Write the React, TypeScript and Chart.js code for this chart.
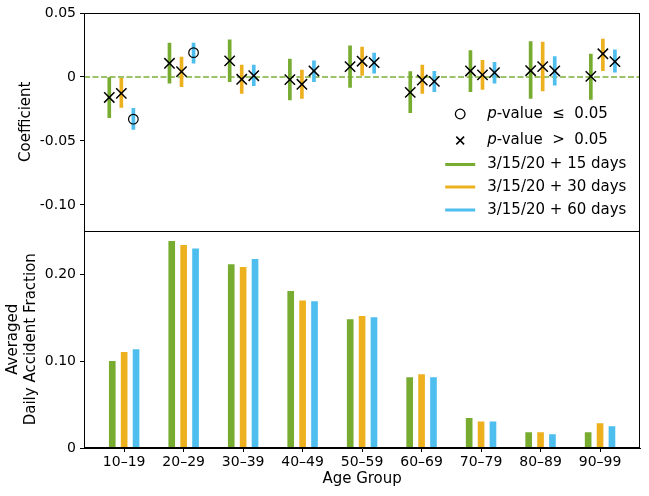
import { Chart, registerables } from "chart.js";
import { useEffect, useRef } from "react";

Chart.register(...registerables);

const ageGroups = ["10–19", "20–29", "30–39", "40–49", "50–59", "60–69", "70–79", "80–89", "90–99"];
const seriesLabels = ["3/15/20 + 15 days", "3/15/20 + 30 days", "3/15/20 + 60 days"];
const seriesColors = ["#77AC30", "#EDB120", "#4DBEEE"];

// regression coefficients and confidence intervals (top panel)
const coef15 = [-0.016, 0.0107, 0.0126, -0.0021, 0.0081, -0.012, 0.0047, 0.0049, 0.0005];
const lo15 = [-0.0318, -0.0049, -0.0037, -0.018, -0.0081, -0.028, -0.0115, -0.0167, -0.0175];
const hi15 = [0.0, 0.0265, 0.029, 0.0139, 0.0243, 0.0042, 0.0206, 0.0277, 0.0178];
const sig15 = [false, false, false, false, false, false, false, false, false];

const coef30 = [-0.0128, 0.0042, -0.0018, -0.0057, 0.0123, -0.0024, 0.0016, 0.0081, 0.0181];
const lo30 = [-0.0238, -0.0076, -0.0128, -0.0167, 0.0013, -0.0128, -0.0097, -0.011, 0.0049];
const hi30 = [-0.001, 0.0155, 0.0092, 0.0053, 0.0233, 0.0092, 0.0131, 0.0272, 0.0296];
const sig30 = [false, false, false, false, false, false, false, false, false];

const coef60 = [-0.033, 0.019, 0.001, 0.0047, 0.0112, -0.0034, 0.0034, 0.0047, 0.012];
const lo60 = [-0.041, 0.0107, -0.0068, -0.0037, 0.0029, -0.0115, -0.0049, -0.0065, 0.0037];
const hi60 = [-0.0246, 0.0265, 0.0092, 0.0126, 0.0186, 0.0045, 0.0115, 0.0159, 0.0212];
const sig60 = [true, true, false, false, false, false, false, false, false];

// averaged daily accident fraction (bottom panel)
const frac15 = [0.0996, 0.2375, 0.2107, 0.18, 0.1475, 0.0808, 0.034, 0.0176, 0.0176];
const frac30 = [0.11, 0.2329, 0.2076, 0.1693, 0.1513, 0.0843, 0.0302, 0.0176, 0.028];
const frac60 = [0.113, 0.229, 0.2168, 0.1682, 0.1498, 0.0808, 0.0302, 0.0153, 0.0245];

const topTicks = [-0.1, -0.05, 0, 0.05];
const bottomTicks = [0, 0.1, 0.2];

const offsets = [-0.2, 0, 0.2];
const coefs = [coef15, coef30, coef60];
const lows = [lo15, lo30, lo60];
const highs = [hi15, hi30, hi60];
const sigs = [sig15, sig30, sig60];
const fracs = [frac15, frac30, frac60];

const tickFont = { family: "DejaVu Sans", size: 14 };
const labelFont = { family: "DejaVu Sans", size: 15 };

const fmt = (v: number) => (v === 0 ? "0" : v.toFixed(2));

// box around each panel
const framePlugin = {
    id: "panelFrames",
    afterDraw(chart: any) {
        const { ctx, chartArea } = chart;
        const yTop = chart.scales.yTop;
        const yBot = chart.scales.yBot;
        const l = Math.round(chartArea.left) + 0.5;
        const r = Math.round(chartArea.right) - 0.5;
        const t = Math.round(yTop.top) + 0.5;
        const m = Math.round(yTop.bottom) + 0.5;
        const b = Math.round(yBot.bottom) - 0.5;
        ctx.save();
        ctx.strokeStyle = "#000";
        ctx.lineWidth = 1;
        ctx.strokeRect(l, t, r - l, b - t);
        ctx.beginPath();
        ctx.moveTo(l, m);
        ctx.lineTo(r, m);
        ctx.stroke();
        ctx.restore();
    },
};

// legend in the lower right of the top panel
const legendPlugin = {
    id: "panelLegend",
    afterDraw(chart: any) {
        const { ctx, chartArea } = chart;
        const yTop = chart.scales.yTop;
        const symX = chartArea.right - 180;
        const textX = chartArea.right - 153;
        const rows = [116.5, 90, 66, 43.5, 20.5].map((d) => yTop.bottom - d);
        ctx.save();
        ctx.textBaseline = "middle";
        ctx.fillStyle = "#000";
        ctx.strokeStyle = "#000";
        ctx.lineWidth = 1.3;
        // circle marker
        ctx.beginPath();
        ctx.arc(symX, rows[0], 4.8, 0, Math.PI * 2);
        ctx.stroke();
        // x marker
        const h = 3.9;
        ctx.lineWidth = 1.5;
        ctx.beginPath();
        ctx.moveTo(symX - h, rows[1] - h);
        ctx.lineTo(symX + h, rows[1] + h);
        ctx.moveTo(symX - h, rows[1] + h);
        ctx.lineTo(symX + h, rows[1] - h);
        ctx.stroke();
        const pText = ["-value  ≤  0.05", "-value  >  0.05"];
        pText.forEach((t, k) => {
            ctx.font = 'italic 15px "DejaVu Sans"';
            ctx.fillText("p", textX, rows[k]);
            const w = ctx.measureText("p").width;
            ctx.font = '15px "DejaVu Sans"';
            ctx.fillText(t, textX + w, rows[k]);
        });
        seriesLabels.forEach((lab, k) => {
            const y = rows[k + 2];
            ctx.strokeStyle = seriesColors[k];
            ctx.lineWidth = 3;
            ctx.beginPath();
            ctx.moveTo(symX - 15, y);
            ctx.lineTo(symX + 15, y);
            ctx.stroke();
            ctx.font = '15px "DejaVu Sans"';
            ctx.fillText(lab, textX, y);
        });
        ctx.restore();
    },
};

export default function App() {
    const chartRef = useRef<HTMLCanvasElement | null>(null);
    useEffect(() => {
        const context = chartRef.current?.getContext("2d");
        if (!context) return;

        const datasets: any[] = [];
        // coefficient markers
        for (let s = 0; s < 3; s++) {
            datasets.push({
                type: "scatter",
                label: seriesLabels[s] + " coef",
                xAxisID: "xTop",
                yAxisID: "yTop",
                data: coefs[s].map((v, i) => ({ x: i + offsets[s], y: v })),
                pointStyle: (c: any) => (sigs[s][c.dataIndex] ? "circle" : "crossRot"),
                pointRadius: (c: any) => (sigs[s][c.dataIndex] ? 4.8 : 7.3),
                pointBorderColor: "#000",
                pointBackgroundColor: "rgba(0,0,0,0)",
                pointBorderWidth: (c: any) => (sigs[s][c.dataIndex] ? 1.2 : 1.5),
                order: 0,
            });
        }
        // confidence intervals
        for (let s = 0; s < 3; s++) {
            datasets.push({
                type: "bar",
                label: seriesLabels[s] + " ci",
                xAxisID: "xTop",
                yAxisID: "yTop",
                data: lows[s].map((v, i) => ({ x: i + offsets[s], y: [v, highs[s][i]] })),
                backgroundColor: seriesColors[s],
                barThickness: 3,
                grouped: false,
                borderWidth: 0,
                order: 1,
            });
        }
        // zero line
        datasets.push({
            type: "line",
            label: "zero",
            xAxisID: "xTop",
            yAxisID: "yTop",
            data: [
                { x: -0.62, y: 0 },
                { x: 8.62, y: 0 },
            ],
            borderColor: "rgba(119,172,48,0.72)",
            borderWidth: 2,
            borderDash: [6, 2.5],
            pointRadius: 0,
            order: 2,
        });
        // accident fraction bars
        for (let s = 0; s < 3; s++) {
            datasets.push({
                type: "bar",
                label: seriesLabels[s],
                xAxisID: "xBot",
                yAxisID: "yBot",
                data: fracs[s].map((v, i) => ({ x: i + offsets[s], y: v })),
                backgroundColor: seriesColors[s],
                barThickness: 6,
                grouped: false,
                borderWidth: 0,
                order: 1,
            });
        }

        const config: any = {
            type: "bar",
            data: { datasets },
            options: {
                animation: false,
                responsive: false,
                events: [],
                layout: { padding: { top: 13, right: 7, left: 0, bottom: 0 } },
                plugins: { legend: { display: false }, tooltip: { enabled: false } },
                scales: {
                    xBot: {
                        type: "linear",
                        position: "bottom",
                        offset: false,
                        min: -0.675,
                        max: 8.675,
                        afterBuildTicks: (sc: any) => {
                            sc.ticks = ageGroups.map((_, i) => ({ value: i }));
                        },
                        afterFit: (sc: any) => {
                            sc.height = 48;
                        },
                        ticks: {
                            callback: (v: number) => ageGroups[v],
                            font: tickFont,
                            color: "#000",
                            padding: 2,
                            maxRotation: 0,
                            autoSkip: false,
                        },
                        grid: { drawOnChartArea: false, offset: false, tickLength: 4, color: "#000" },
                        border: { color: "#000" },
                        title: {
                            display: true,
                            text: "Age Group",
                            font: labelFont,
                            color: "#000",
                            padding: { top: 0, bottom: 8 },
                        },
                    },
                    xTop: {
                        type: "linear",
                        display: false,
                        offset: false,
                        grid: { offset: false },
                        min: -0.62,
                        max: 8.62,
                    },
                    yBot: {
                        type: "linear",
                        position: "left",
                        stack: "panels",
                        stackWeight: 1,
                        min: 0,
                        max: 0.25,
                        afterBuildTicks: (sc: any) => {
                            sc.ticks = bottomTicks.map((v) => ({ value: v }));
                        },
                        afterFit: (sc: any) => {
                            sc.width = 84;
                        },
                        ticks: { callback: (v: number) => fmt(v), font: tickFont, color: "#000", padding: 4 },
                        grid: { drawOnChartArea: false, tickLength: 4, color: "#000" },
                        border: { color: "#000" },
                        title: {
                            display: true,
                            text: ["Averaged", "Daily Accident Fraction"],
                            font: labelFont,
                            color: "#000",
                            padding: { top: 3.7, bottom: 0 },
                        },
                    },
                    yTop: {
                        type: "linear",
                        position: "left",
                        stack: "panels",
                        stackWeight: 1,
                        min: -0.12,
                        max: 0.05,
                        afterBuildTicks: (sc: any) => {
                            sc.ticks = topTicks.map((v) => ({ value: v }));
                        },
                        afterFit: (sc: any) => {
                            sc.width = 84;
                        },
                        ticks: { callback: (v: number) => fmt(v), font: tickFont, color: "#000", padding: 4 },
                        grid: { drawOnChartArea: false, tickLength: 4, color: "#000" },
                        border: { color: "#000" },
                        title: {
                            display: true,
                            text: "Coefficient",
                            font: labelFont,
                            color: "#000",
                            padding: { top: 17, bottom: 0 },
                        },
                    },
                },
            },
            plugins: [framePlugin, legendPlugin],
        };

        const chartInstance = new Chart(context, config);
        return () => {
            chartInstance.destroy();
        };
    }, []);

    return (
        <div style={{ position: "absolute", left: 0, top: 0, width: 649, height: 496, background: "#fff" }}>
            <canvas ref={chartRef} width={649} height={496} />
        </div>
    );
}
